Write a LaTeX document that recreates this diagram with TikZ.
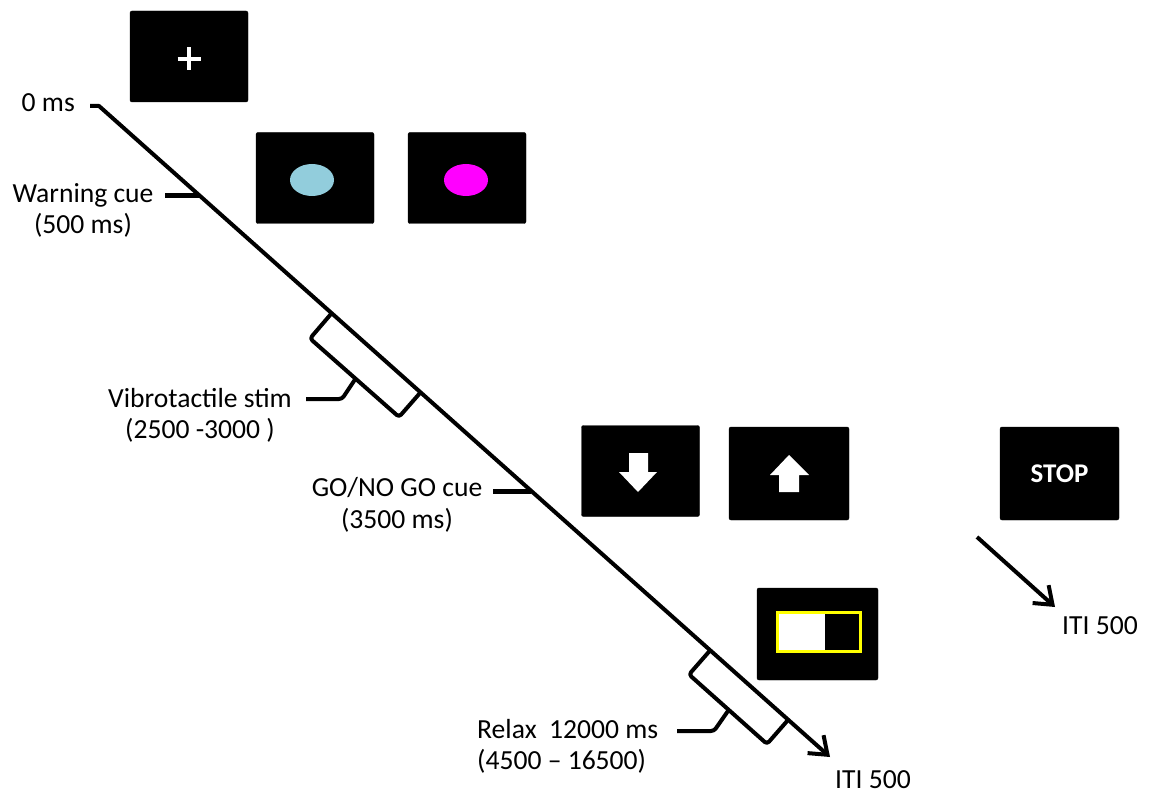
\documentclass[tikz,border=0pt]{standalone}
\usepackage{fontspec}
\setmainfont{Carlito}
\usetikzlibrary{arrows.meta}
\begin{document}
\begin{tikzpicture}[x=1pt,y=-1pt,
  screen/.style={fill=black, draw=black, rounded corners=2pt,
    minimum width=118pt, minimum height=91pt, inner sep=0pt},
  lbl/.style={inner sep=0pt, font=\fontsize{27.6}{31.5}\selectfont, align=center},
  timeline/.style={line width=4pt, line join=round},
  tick/.style={line width=5pt},
  bracket/.style={line width=4pt, rounded corners=3pt, line join=round},
  barb/.style={-{Straight Barb[length=16pt,width=24pt]}}
]
\definecolor{cuelight}{HTML}{92CDDC}
\definecolor{cuemagenta}{HTML}{FF00FF}
\definecolor{frameyellow}{HTML}{FFFF00}
\useasboundingbox (0,0) rectangle (1151,799);

% stimulus screens
\node[screen] (fix) at (189,56.5) {};
\draw[white, line width=3.6pt] (177.5,59) -- (200.5,59) (189,47.5) -- (189,70.5);

\node[screen] (cueA) at (315,178) {};
\fill[cuelight] (312,180) ellipse [x radius=22, y radius=16];
\node[screen] (cueB) at (467,178) {};
\fill[cuemagenta] (466,180) ellipse [x radius=22, y radius=16];

\node[screen] (down) at (640.5,471) {};
\fill[white] (629,453) -- (648,453) -- (648,472) -- (657,472) -- (638,492)
  -- (619,472) -- (629,472) -- cycle;
\node[screen, minimum width=120pt, minimum height=93pt] (up) at (789,473.5) {};
\fill[white] (789,455) -- (809,475) -- (799,475) -- (799,492) -- (779,492)
  -- (779,475) -- (770,475) -- cycle;

\node[screen, minimum width=119pt, minimum height=93pt] (stop) at (1059.5,473.5)
  {\color{white}\bfseries\fontsize{27}{31}\selectfont STOP};

\node[screen, minimum width=121pt, minimum height=92pt] (slider) at (817.5,634) {};
\fill[white] (777,612) rectangle (825,651);
\draw[frameyellow, line width=3pt] (777,612) rectangle (860,651);

% main timeline
\coordinate (s0) at (90,106);
\coordinate (t0) at (99,106);
\coordinate (t1) at (830,757);
\draw[timeline, barb] (s0) -- (t0) -- (t1);

% labels
\node[lbl, anchor=east] (zero) at (75,103) {0 ms};
\node[lbl] (warn) at (83,210.5) {Warning cue\\(500 ms)};
\node[lbl] (vib) at (200,415.5) {Vibrotactile stim\\(2500 -3000 )};
\node[lbl] (go) at (397,505) {GO/NO GO cue\\(3500 ms)};
\node[lbl, align=left, anchor=west] (relax) at (477,746.5) {Relax\ \ 12000 ms\\(4500 -- 16500)};
\node[lbl, anchor=west] (itiA) at (835,780) {ITI 500};
\node[lbl, anchor=west] (itiB) at (1062,626) {ITI 500};

% event ticks on the timeline
\coordinate (warnT) at (199,196);
\coordinate (goT) at (531,491);
\draw[tick] (165,196) -- (warnT);
\draw[tick] (493,491) -- (goT);

% vibrotactile interval bracket
\coordinate (vA) at (331,314);
\coordinate (vB) at (420,393);
\draw[bracket] (vA) -- (310,338.5) -- (399,417) -- (vB);
\draw[bracket] (356,378) -- (342,399) -- (306,399);

% relax interval bracket
\coordinate (rA) at (710,650.5);
\coordinate (rB) at (788,720);
\draw[bracket] (rA) -- (689,674.5) -- (767,744) -- (rB);
\draw[bracket] (729,709.5) -- (714,731) -- (677,731);

% stop trial branch
\coordinate (st0) at (977,537);
\coordinate (st1) at (1055,607);
\draw[timeline, barb] (st0) -- (st1);
\end{tikzpicture}
\end{document}
